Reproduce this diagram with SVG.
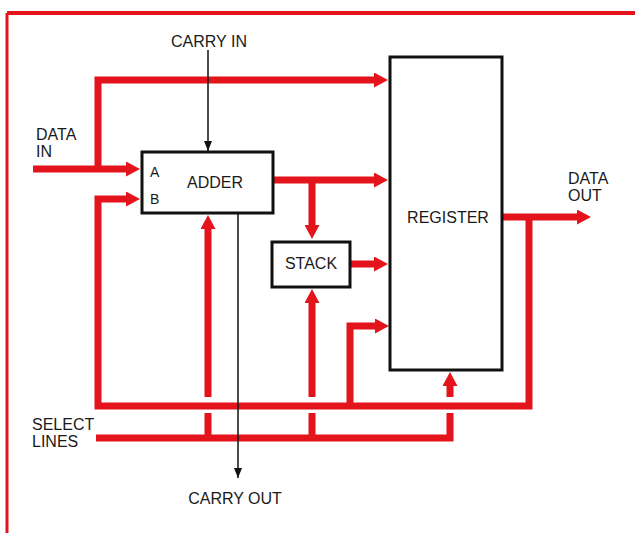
<svg xmlns="http://www.w3.org/2000/svg" width="635" height="533" viewBox="0 0 635 533">
<style>
.r{fill:none;stroke:#e3141b;stroke-width:7;stroke-linejoin:miter;stroke-linecap:butt}
.k{fill:none;stroke:#111;stroke-width:1.5}
.box{fill:#fff;stroke:#111;stroke-width:3}
text{font-family:"Liberation Sans",Arial,sans-serif;font-size:16px;fill:#1a1a1a}
.m{text-anchor:middle}
.s{font-size:14px}
.frame{fill:none;stroke:#e3141b}
</style>
<defs>
<marker id="ra" markerUnits="userSpaceOnUse" markerWidth="14" markerHeight="15" viewBox="0 0 14 15" refX="0" refY="7.5" orient="auto"><path d="M0,0 L14,7.5 L0,15 z" fill="#e3141b"/></marker>
<marker id="ka" markerUnits="userSpaceOnUse" markerWidth="10" markerHeight="8" viewBox="0 0 10 8" refX="10" refY="4" orient="auto"><path d="M0,0 L10,4 L0,8 z" fill="#111"/></marker>
</defs>
<g id="frame">
<path class="frame" stroke-width="4" d="M7,13 H635"/>
<path class="frame" stroke-width="3" d="M7,13 V533"/>
</g>
<g id="connectors">
<path class="r" d="M33,169 H126" marker-end="url(#ra)"/>
<path class="r" d="M98,169 V80 H374" marker-end="url(#ra)"/>
<path class="r" d="M529,217 V406 H98 V199 H126" marker-end="url(#ra)"/>
<path class="r" d="M502,217 H577" marker-end="url(#ra)"/>
<path class="r" d="M350,406 V326 H375" marker-end="url(#ra)"/>
<path class="r" d="M273,180 H374" marker-end="url(#ra)"/>
<path class="r" d="M312,180 V225" marker-end="url(#ra)"/>
<path class="r" d="M350,264 H374" marker-end="url(#ra)"/>
<path class="r" d="M96,438 H450 V413"/>
<path class="r" d="M208,438 V413"/>
<path class="r" d="M312,438 V413"/>
<path class="r" d="M208,397 V229" marker-end="url(#ra)"/>
<path class="r" d="M312,397 V303" marker-end="url(#ra)"/>
<path class="r" d="M450,397 V386" marker-end="url(#ra)"/>
<path class="k" d="M208,50 V151" marker-end="url(#ka)"/>
<path class="k" d="M238,214 V478" marker-end="url(#ka)"/>
</g>
<g id="adder">
<rect class="box" x="142" y="152" width="131" height="61"/>
<text class="m" x="215" y="188">ADDER</text>
<text class="s" x="150" y="177">A</text>
<text class="s" x="150" y="204">B</text>
</g>
<g id="stack">
<rect class="box" x="272" y="242" width="78" height="45"/>
<text class="m" x="311" y="269">STACK</text>
</g>
<g id="register">
<rect class="box" x="390" y="57" width="112" height="313"/>
<text class="m" x="448" y="223">REGISTER</text>
</g>
<g id="labels">
<text class="m" x="209" y="47">CARRY IN</text>
<text x="36" y="140">DATA</text>
<text x="36" y="157">IN</text>
<text x="568" y="184">DATA</text>
<text x="568" y="201">OUT</text>
<text x="32" y="430">SELECT</text>
<text x="32" y="447">LINES</text>
<text class="m" x="235" y="504">CARRY OUT</text>
</g>
</svg>
